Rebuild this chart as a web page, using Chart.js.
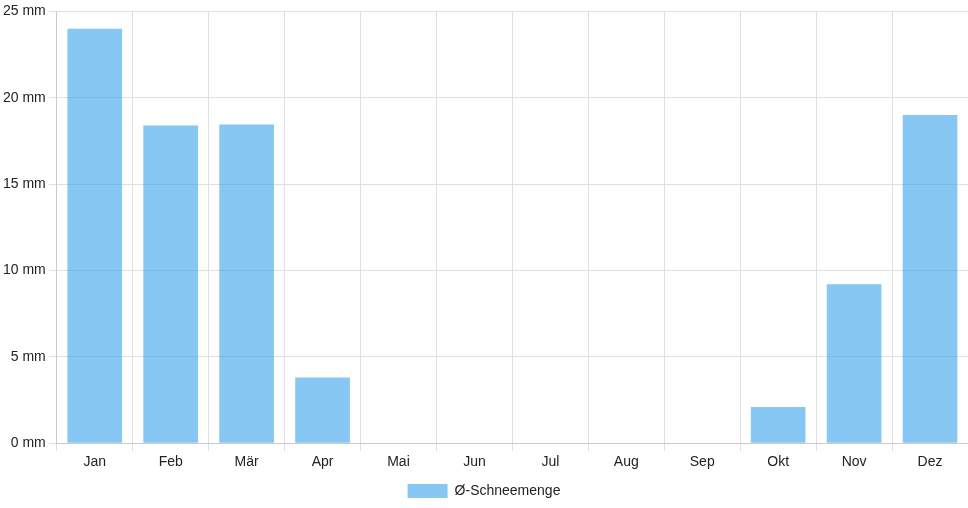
<!DOCTYPE html>
<html>
<head>
<meta charset="utf-8">
<script src="https://cdn.jsdelivr.net/npm/chart.js@4"></script>
<style>
  html, body { margin: 0; padding: 0; background: #fff; }
  #wrap { width: 968px; height: 508px; }
</style>
</head>
<body>
<div id="wrap"><canvas id="chartSchnee"></canvas></div>
<script>
const months = ['Jan', 'Feb', 'Mär', 'Apr', 'Mai', 'Jun', 'Jul', 'Aug', 'Sep', 'Okt', 'Nov', 'Dez'];
const snowMm = [24.0, 18.4, 18.45, 3.8, 0, 0, 0, 0, 0, 2.1, 9.2, 19.0];
const seriesLabel = 'Ø-Schneemenge';

Chart.defaults.font.family = '"Liberation Sans", Arial, sans-serif';
Chart.defaults.font.size = 14;
Chart.defaults.color = '#222';

new Chart(document.getElementById('chartSchnee').getContext('2d'), {
  type: 'bar',
  data: {
    labels: months,
    datasets: [{
      label: seriesLabel,
      data: snowMm,
      backgroundColor: 'rgba(54, 162, 235, 0.6)',
      borderColor: 'rgba(54, 162, 235, 0.6)',
      borderWidth: 0
    }]
  },
  options: {
    responsive: true,
    maintainAspectRatio: false,
    animation: false,
    layout: { padding: { top: 4 } },
    plugins: {
      legend: { position: 'bottom' },
      tooltip: { enabled: false }
    },
    scales: {
      x: {
        grid: { color: '#e0e0e0' }
      },
      y: {
        min: 0,
        max: 25,
        ticks: { stepSize: 5, callback: v => v + ' mm' },
        grid: { color: '#e0e0e0' }
      }
    }
  }
});
</script>
</body>
</html>
